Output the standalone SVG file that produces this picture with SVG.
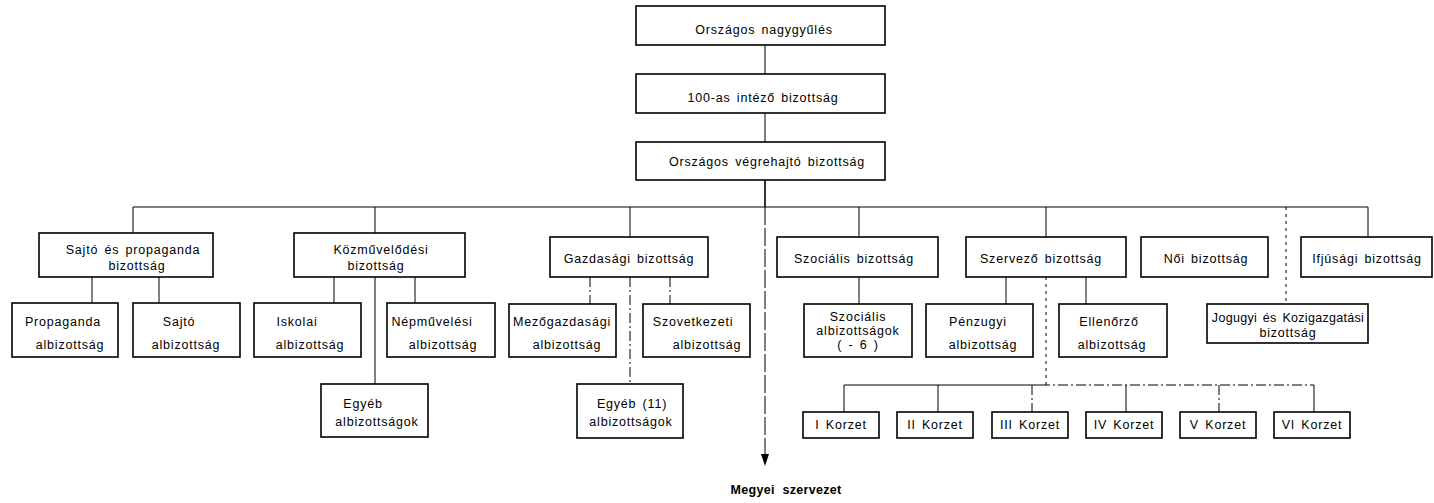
<svg xmlns="http://www.w3.org/2000/svg" width="1434" height="503" viewBox="0 0 1434 503">
<style>
.box{fill:#fff;stroke:#000;stroke-width:1.6}
.t{font-family:"Liberation Sans",Arial,sans-serif;font-size:12.5px;letter-spacing:0.8px;word-spacing:2px;text-anchor:middle;fill:#000}
.b{font-weight:bold;letter-spacing:0.3px;word-spacing:4px}
.ln{stroke:#000;stroke-width:1;fill:none}
.thick{stroke-width:1.6}
.dash{stroke-dasharray:10 3 2 3}
.dot{stroke-dasharray:3 4}
.long{stroke-dasharray:18 3}
</style>
<rect x="0" y="0" width="1434" height="503" fill="#fff"/>
<g id="connectors">
<line class="ln" x1="765" y1="45" x2="765" y2="74"/>
<line class="ln" x1="765" y1="113" x2="765" y2="142"/>
<line class="ln thick" x1="765" y1="180" x2="765" y2="207"/>
<line class="ln" x1="133" y1="207" x2="1368" y2="207"/>
<line class="ln long" x1="765" y1="207" x2="765" y2="456"/>
<polygon points="761,454 769,454 765,466" fill="#000"/>
<line class="ln" x1="133" y1="207" x2="133" y2="233"/>
<line class="ln" x1="375" y1="207" x2="375" y2="233"/>
<line class="ln" x1="630" y1="207" x2="630" y2="237"/>
<line class="ln" x1="859" y1="207" x2="859" y2="237"/>
<line class="ln" x1="1046" y1="207" x2="1046" y2="237"/>
<line class="ln" x1="1368" y1="207" x2="1368" y2="237"/>
<line class="ln dot" x1="1286" y1="207" x2="1286" y2="304"/>
<line class="ln" x1="92" y1="277" x2="92" y2="303"/>
<line class="ln" x1="159" y1="277" x2="159" y2="303"/>
<line class="ln" x1="334" y1="277" x2="334" y2="303"/>
<line class="ln" x1="415" y1="277" x2="415" y2="303"/>
<line class="ln" x1="375" y1="277" x2="375" y2="384"/>
<line class="ln dash" x1="590" y1="277" x2="590" y2="304"/>
<line class="ln dash" x1="670" y1="277" x2="670" y2="304"/>
<line class="ln dash" x1="630" y1="277" x2="630" y2="384"/>
<line class="ln" x1="859" y1="277" x2="859" y2="304"/>
<line class="ln" x1="1006" y1="277" x2="1006" y2="304"/>
<line class="ln" x1="1086" y1="277" x2="1086" y2="304"/>
<line class="ln dot" x1="1046" y1="277" x2="1046" y2="385"/>
<line class="ln" x1="844" y1="385" x2="1040" y2="385"/>
<line class="ln dash" x1="1040" y1="385" x2="1314" y2="385"/>
<line class="ln" x1="844" y1="385" x2="844" y2="412"/>
<line class="ln" x1="938" y1="385" x2="938" y2="412"/>
<line class="ln dash" x1="1032" y1="385" x2="1032" y2="412"/>
<line class="ln" x1="1126" y1="385" x2="1126" y2="412"/>
<line class="ln dash" x1="1219" y1="385" x2="1219" y2="412"/>
<line class="ln" x1="1314" y1="385" x2="1314" y2="412"/>
</g>
<g id="n-orszagos-nagygyules"><rect class="box" x="636" y="6" width="249" height="39"/><text class="t" x="764" y="34">Országos nagygyűlés</text></g>
<g id="n-100as"><rect class="box" x="636" y="74" width="249" height="39"/><text class="t" x="763" y="102">100-as intéző bizottság</text></g>
<g id="n-vegrehajto"><rect class="box" x="636" y="142" width="249" height="38"/><text class="t" x="767" y="166">Országos végrehajtó bizottság</text></g>
<g id="n-sajto-prop"><rect class="box" x="39" y="233" width="174" height="44"/><text class="t" x="133" y="254">Sajtó és propaganda</text><text class="t" x="137" y="270">bizottság</text></g>
<g id="n-kozmuv"><rect class="box" x="294" y="233" width="171" height="44"/><text class="t" x="381" y="254">Közművelődési</text><text class="t" x="376" y="270">bizottság</text></g>
<g id="n-gazd"><rect class="box" x="550" y="237" width="158" height="40"/><text class="t" x="629" y="263">Gazdasági bizottság</text></g>
<g id="n-szoc"><rect class="box" x="777" y="237" width="161" height="40"/><text class="t" x="854" y="263">Szociális bizottság</text></g>
<g id="n-szerv"><rect class="box" x="966" y="237" width="160" height="40"/><text class="t" x="1041" y="263">Szervező bizottság</text></g>
<g id="n-noi"><rect class="box" x="1141" y="237" width="127" height="40"/><text class="t" x="1206" y="263">Női bizottság</text></g>
<g id="n-ifj"><rect class="box" x="1301" y="237" width="131" height="40"/><text class="t" x="1367" y="263">Ifjúsági bizottság</text></g>
<g id="n-prop-al"><rect class="box" x="12" y="303" width="106" height="54"/><text class="t" x="63" y="326">Propaganda</text><text class="t" x="70" y="349">albizottság</text></g>
<g id="n-sajto-al"><rect class="box" x="133" y="303" width="107" height="54"/><text class="t" x="179" y="326">Sajtó</text><text class="t" x="186" y="349">albizottság</text></g>
<g id="n-isk"><rect class="box" x="254" y="303" width="107" height="54"/><text class="t" x="297" y="326">Iskolai</text><text class="t" x="310" y="349">albizottság</text></g>
<g id="n-nep"><rect class="box" x="387" y="303" width="108" height="54"/><text class="t" x="432" y="326">Népművelési</text><text class="t" x="443" y="349">albizottság</text></g>
<g id="n-egyeb1"><rect class="box" x="321" y="384" width="107" height="53"/><text class="t" x="363" y="408">Egyéb</text><text class="t" x="377" y="426">albizottságok</text></g>
<g id="n-mezo"><rect class="box" x="509" y="304" width="107" height="53"/><text class="t" x="562" y="326">Mezőgazdasági</text><text class="t" x="567" y="349">albizottság</text></g>
<g id="n-szov"><rect class="box" x="643" y="304" width="107" height="53"/><text class="t" x="693" y="326">Szovetkezeti</text><text class="t" x="707" y="349">albizottság</text></g>
<g id="n-egyeb2"><rect class="box" x="577" y="384" width="106" height="54"/><text class="t" x="632" y="408">Egyéb (11)</text><text class="t" x="631" y="426">albizottságok</text></g>
<g id="n-szoc-al"><rect class="box" x="804" y="304" width="108" height="53"/><text class="t" x="858" y="321">Szociális</text><text class="t" x="858" y="335">albizottságok</text><text class="t" x="858" y="349">( - 6 )</text></g>
<g id="n-penz"><rect class="box" x="926" y="304" width="107" height="53"/><text class="t" x="978" y="326">Pénzugyi</text><text class="t" x="983" y="349">albizottság</text></g>
<g id="n-ell"><rect class="box" x="1059" y="304" width="108" height="53"/><text class="t" x="1109" y="326">Ellenőrző</text><text class="t" x="1112" y="349">albizottság</text></g>
<g id="n-jog"><rect class="box" x="1207" y="304" width="161" height="39"/><text class="t" x="1288" y="322" style="letter-spacing:0.3px">Jogugyi és Kozigazgatási</text><text class="t" x="1288" y="337">bizottság</text></g>
<g id="n-k1"><rect class="box" x="803" y="412" width="76" height="26"/><text class="t" x="841" y="429">I Korzet</text></g>
<g id="n-k2"><rect class="box" x="897" y="412" width="76" height="26"/><text class="t" x="935" y="429">II Korzet</text></g>
<g id="n-k3"><rect class="box" x="992" y="412" width="76" height="26"/><text class="t" x="1030" y="429">III Korzet</text></g>
<g id="n-k4"><rect class="box" x="1086" y="412" width="76" height="26"/><text class="t" x="1124" y="429">IV Korzet</text></g>
<g id="n-k5"><rect class="box" x="1180" y="412" width="76" height="26"/><text class="t" x="1218" y="429">V Korzet</text></g>
<g id="n-k6"><rect class="box" x="1274" y="412" width="76" height="26"/><text class="t" x="1312" y="429">VI Korzet</text></g>
<g id="n-megyei"><text class="t b" x="786" y="494">Megyei szervezet</text></g>
</svg>
